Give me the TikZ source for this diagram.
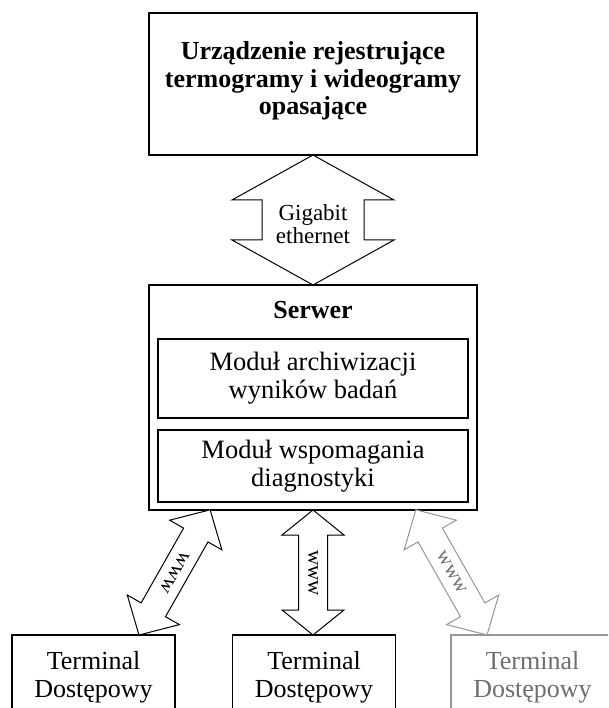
\documentclass[tikz,border=0pt]{standalone}
\usepackage{fontspec}
\setmainfont{Liberation Serif}
\definecolor{gline}{RGB}{150,150,150}
\definecolor{gtext}{RGB}{110,110,110}
\begin{document}
\begin{tikzpicture}[x=1pt,y=-1pt,
  blk/.style={draw, line width=1.3pt, inner sep=0pt, outer sep=0pt},
  blockarrow/.style={draw, line width=1pt, line join=miter, fill=white},
  bigtxt/.style={font=\fontsize{26}{27.5}\selectfont\bfseries, align=center, inner sep=0pt},
  modtxt/.style={font=\fontsize{26.5}{28}\selectfont, align=center, inner sep=0pt},
  labtxt/.style={font=\fontsize{23}{22.5}\selectfont, align=center, inner sep=0pt},
  wlab/.style={font=\fontsize{21}{21}\selectfont, inner sep=0pt},
  term/.style={draw, line width=1.3pt, anchor=north, minimum width=163pt, align=center,
    inner xsep=0pt, inner ysep=16pt, outer sep=0pt, font=\fontsize{26}{28}\selectfont}
]
\useasboundingbox (0,0) rectangle (608,708);
\clip (0,0) rectangle (608,708);

% top device
\node[blk, minimum width=328pt, minimum height=142pt] (top) at (313,84) {};
\node[bigtxt] (toptext) at (313,81) {Urządzenie rejestrujące\\termogramy i wideogramy\\opasające};

% server
\node[blk, minimum width=328pt, minimum height=225pt] (srv) at (313,397.5) {};
\node[bigtxt] (srvtext) at (313,310) {Serwer};
\node[blk, line width=1.1pt, minimum width=310pt, minimum height=79pt, modtxt] (mod1) at (313,378.5) {Moduł archiwizacji\\wyników badań};
\node[blk, line width=1.1pt, minimum width=310pt, minimum height=72pt, modtxt] (mod2) at (313,466) {Moduł wspomagania\\diagnostyki};

% terminals
\node[term] (t1) at (93.5,635) {Terminal\\Dostępowy};
\node[term] (t2) at (314,635) {Terminal\\Dostępowy};
\node[term, draw=gline, text=gtext] (t3) at (532.5,635) {Terminal\\Dostępowy};

% gigabit arrow
\draw[blockarrow] (top.south) -- ++(81,45) -- ++(-30,0) -- ++(0,40) -- ++(30,0)
  -- (srv.north) -- ++(-81,-45) -- ++(30,0) -- ++(0,-40) -- ++(-30,0) -- cycle;
\node[labtxt] (gig) at (313,224) {Gigabit\\ethernet};

% middle www arrow
\draw[blockarrow] (srv.south) -- ++(31,25) -- ++(-16.5,0) -- ++(0,75) -- ++(16.5,0)
  -- (t2.north -| srv.south) -- ++(-31,-25) -- ++(16.5,0) -- ++(0,-75) -- ++(-16.5,0) -- cycle;
\node[wlab, rotate=-90] (w2) at (313,573) {www};

% left www arrow
\begin{scope}[shift={(139,635)}, rotate=60.4]
  \draw[blockarrow] (0,0) -- (29,30) -- (29,14) -- (115,14) -- (115,30) -- (144,0)
    -- (115,-30) -- (115,-14) -- (29,-14) -- (29,-30) -- cycle;
  \node[wlab, rotate=-119.6] (w1) at (72,0) {www};
\end{scope}

% right www arrow (grey)
\begin{scope}[shift={(487,635)}, rotate=119.6]
  \draw[blockarrow, draw=gline] (0,0) -- (29,30) -- (29,14) -- (115,14) -- (115,30) -- (144,0)
    -- (115,-30) -- (115,-14) -- (29,-14) -- (29,-30) -- cycle;
  \node[wlab, rotate=-60.4, text=gtext] (w3) at (72,0) {www};
\end{scope}
\end{tikzpicture}
\end{document}
